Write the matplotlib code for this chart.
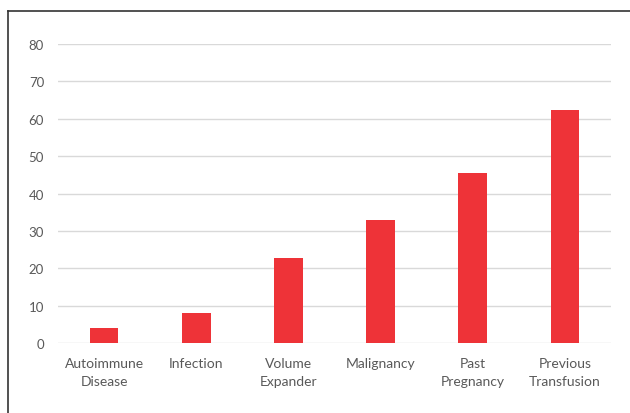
import matplotlib
matplotlib.use("Agg")
import matplotlib.pyplot as plt
from matplotlib.lines import Line2D

categories = ["Autoimmune\nDisease", "Infection", "Volume\nExpander",
              "Malignancy", "Past\nPregnancy", "Previous\nTransfusion"]
values = [4.1, 8.1, 22.8, 33.0, 45.6, 62.4]
yticks = [0, 10, 20, 30, 40, 50, 60, 70, 80]

plt.rcParams['font.family'] = ['Lato', 'DejaVu Sans']

fig = plt.figure(figsize=(6.3, 4.14), dpi=100)
ax = fig.add_axes([58 / 630, 70 / 414, 553 / 630, 299 / 414])

ax.bar(range(len(categories)), values, width=0.31, color="#ee3338", zorder=3)
ax.set_xlim(-0.5, len(categories) - 0.5)
ax.set_ylim(0, 80)
ax.set_yticks(yticks)
ax.set_xticks(range(len(categories)))
ax.set_xticklabels(categories, linespacing=1.6)

ax.grid(axis="y", color="#d9d9d9", linewidth=1, zorder=0)
for s in ax.spines.values():
    s.set_visible(False)
ax.tick_params(axis="both", length=0, colors="#595959")
ax.tick_params(axis="y", pad=10, labelsize=9.5)
ax.tick_params(axis="x", pad=10, labelsize=10)

# outer frame (left and top only, as in the reference)
fig.add_artist(Line2D([8 / 630, 8 / 630], [0, 1 - 12 / 414], transform=fig.transFigure,
                      color="#333333", linewidth=1.2))
fig.add_artist(Line2D([8 / 630, 1], [1 - 12 / 414, 1 - 12 / 414], transform=fig.transFigure,
                      color="#333333", linewidth=1.2))

fig.savefig("out.png", dpi=100)
